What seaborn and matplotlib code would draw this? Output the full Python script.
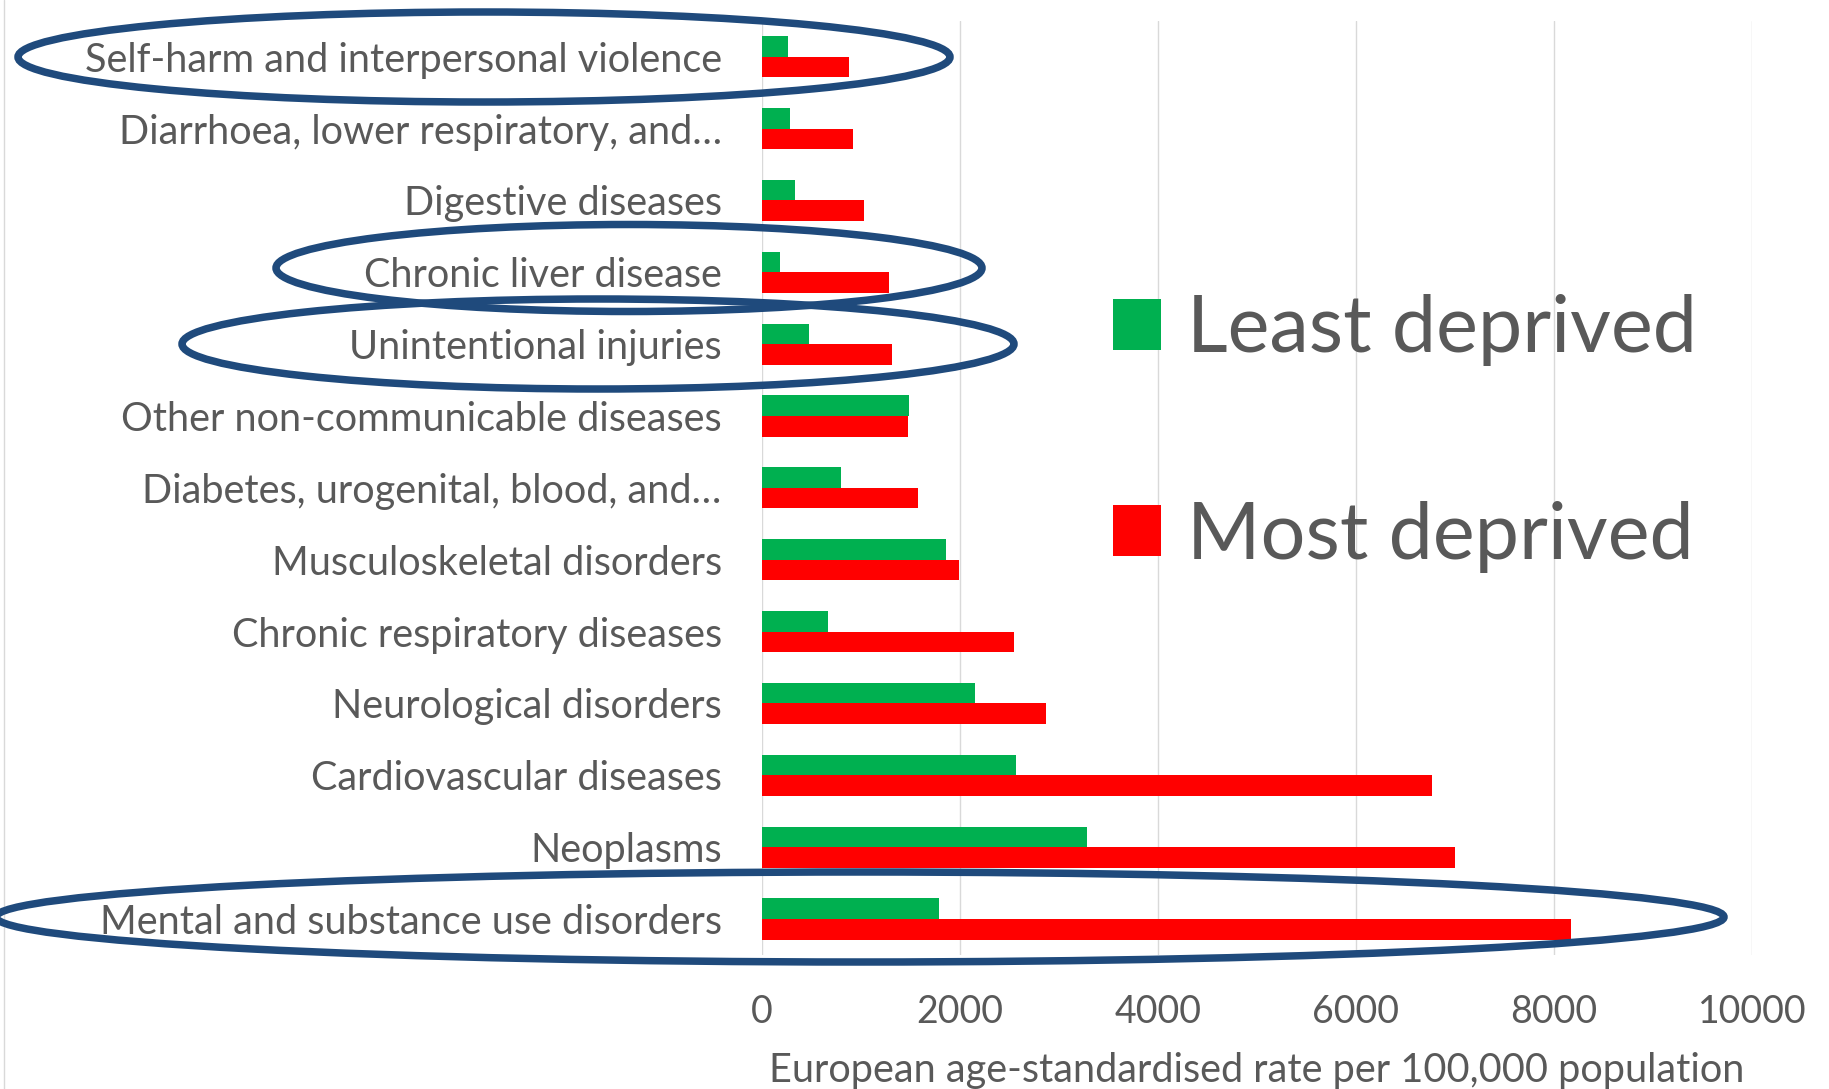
import matplotlib
matplotlib.use("Agg")
import matplotlib.pyplot as plt
from matplotlib.patches import Ellipse, Patch
from matplotlib.lines import Line2D
import pandas as pd
import seaborn as sns

# Causes of ill health, top to bottom
causes = [
    "Self-harm and interpersonal violence",
    "Diarrhoea, lower respiratory, and…",
    "Digestive diseases",
    "Chronic liver disease",
    "Unintentional injuries",
    "Other non-communicable diseases",
    "Diabetes, urogenital, blood, and…",
    "Musculoskeletal disorders",
    "Chronic respiratory diseases",
    "Neurological disorders",
    "Cardiovascular diseases",
    "Neoplasms",
    "Mental and substance use disorders",
]
least_deprived = [263, 287, 334, 186, 473, 1483, 800, 1858, 667, 2156, 2563, 3279, 1791]
most_deprived = [878, 919, 1027, 1284, 1314, 1476, 1578, 1990, 2542, 2872, 6763, 7001, 8167]
groups = ["Least deprived", "Most deprived"]
x_ticks = [0, 2000, 4000, 6000, 8000, 10000]
x_label = "European age-standardised rate per 100,000 population"

df = pd.DataFrame({
    "cause": causes * 2,
    "group": [groups[0]] * len(causes) + [groups[1]] * len(causes),
    "rate": least_deprived + most_deprived,
})

TEXT = "#595959"
GRID = "#D9D9D9"
GREEN = "#00B050"
RED = "#FF0000"
NAVY = "#1F4A7C"

sns.set_theme(style="white")
plt.rcParams["font.family"] = ["Lato", "DejaVu Sans"]

W, H = 1829, 1089
fig = plt.figure(figsize=(W / 100, H / 100), dpi=100)
ax = fig.add_axes([762 / W, 1 - 955 / H, (1752 - 762) / W, (955 - 20.8) / H])

sns.barplot(
    data=df, y="cause", x="rate", hue="group", order=causes, hue_order=groups,
    palette=[GREEN, RED], saturation=1, width=0.573, orient="h",
    linewidth=0, edgecolor="none", ax=ax, legend=False, zorder=3,
)

ax.set_xlim(0, 10000)
ax.set_xticks(x_ticks)
ax.set_xticklabels([str(t) for t in x_ticks])
ax.xaxis.grid(True, color=GRID, linewidth=1.0, zorder=0)
ax.yaxis.grid(False)
ax.set_axisbelow(True)
for s in ax.spines.values():
    s.set_visible(False)
ax.tick_params(axis="y", length=0, pad=29, labelsize=28.5, labelcolor=TEXT)
ax.tick_params(axis="x", length=0, pad=28, labelsize=27, labelcolor=TEXT)
ax.set_ylabel("")
ax.set_xlabel(x_label, fontsize=28.5, color=TEXT, labelpad=16)

# Legend, large squares beside the bars
handles = [Patch(facecolor=GREEN, edgecolor="none"), Patch(facecolor=RED, edgecolor="none")]
fig.legend(
    handles, groups, loc="upper left", bbox_to_anchor=(1113 / W, 1 - 294 / H),
    frameon=False, fontsize=57, labelcolor=TEXT, handlelength=0.61, handleheight=0.61,
    handletextpad=0.33, labelspacing=1.70, borderpad=0, borderaxespad=0,
)

# Thin frame line at the left edge of the chart area
fig.add_artist(Line2D([4 / W, 4 / W], [0, 1], color=GRID, linewidth=1.0,
                      transform=fig.transFigure))

# Highlight rings around selected causes (centre x, centre y, width, height in px)
rings = [
    (484, 57, 932, 90),
    (629, 268, 706, 87),
    (598, 344, 832, 90),
    (860, 917, 1728, 90),
]
for cx, cy, w, h in rings:
    fig.add_artist(Ellipse((cx / W, 1 - cy / H), w / W, h / H, transform=fig.transFigure,
                           fill=False, edgecolor=NAVY, linewidth=5.4, zorder=10))

fig.savefig("out.png", dpi=100, facecolor="white")
